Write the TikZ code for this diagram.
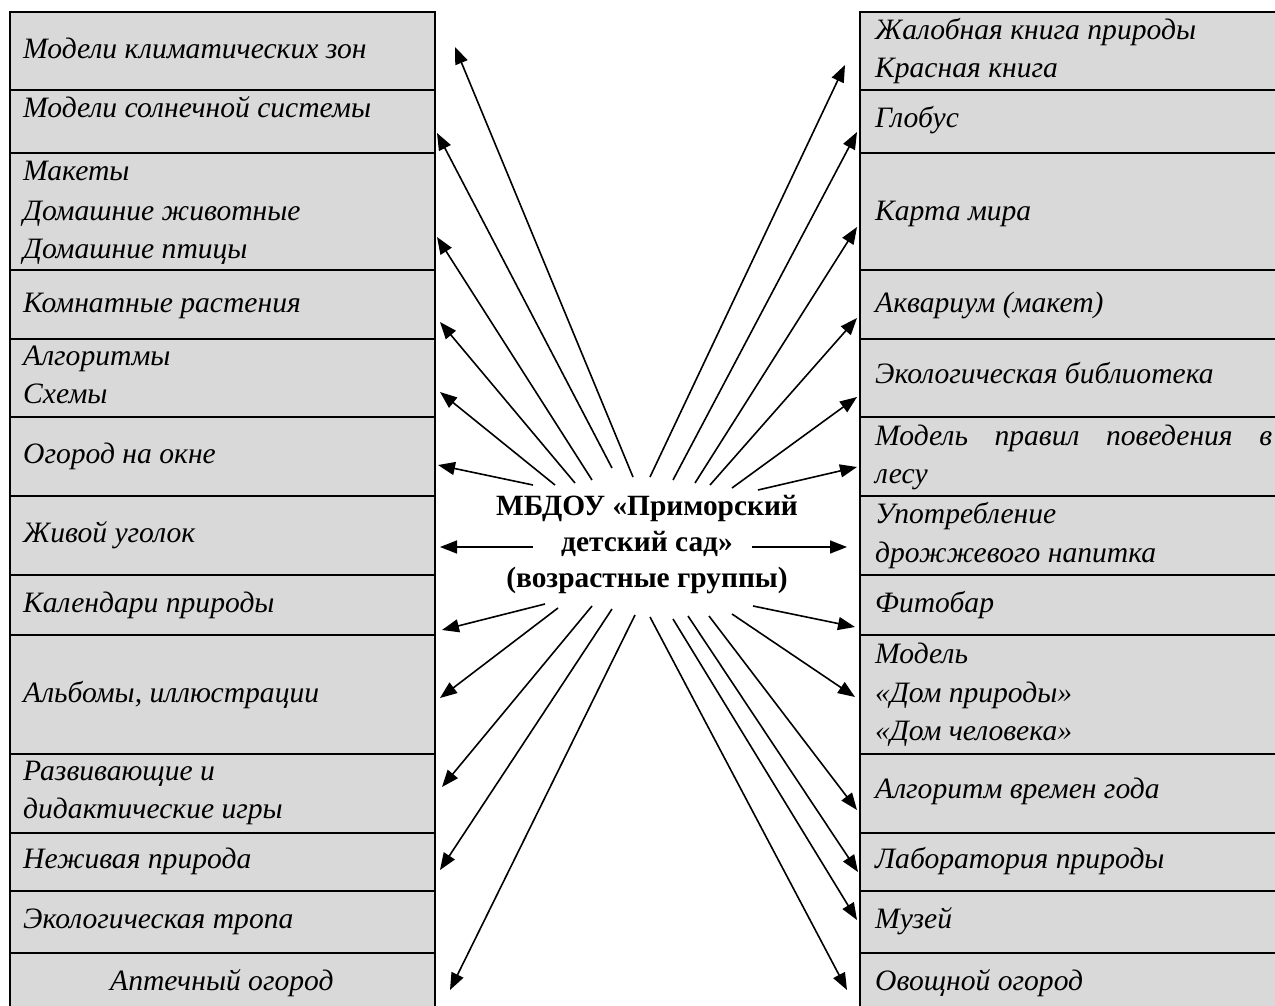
\documentclass[tikz,border=0pt]{standalone}
\usepackage{fontspec}
\setmainfont{Liberation Serif}
\usetikzlibrary{arrows.meta}
\definecolor{cellgray}{HTML}{D9D9D9}
\begin{document}
\begin{tikzpicture}[x=1pt,y=-1pt,
  cell/.style={draw=black, line width=1.5pt, fill=cellgray, inner sep=0pt, outer sep=0pt, anchor=north west},
  lbl/.style={anchor=base west, inner sep=0pt, font=\fontsize{29.6}{35}\selectfont\itshape},
  ctr/.style={anchor=base, inner sep=0pt, font=\fontsize{29.4}{35}\selectfont\bfseries},
  arr/.style={line width=1.6pt, -{Triangle[length=17pt,width=13pt]}}]
\useasboundingbox (0,0) rectangle (1275,1006);
\clip (0,0) rectangle (1275,1006);
\fill[white] (0,0) rectangle (1275,1006);
% table cells
\foreach \nm/\t/\b in {1/12/90,2/90/153,3/153/270,4/270/339,5/339/417,6/417/496,7/496/575,8/575/635,9/635/754,10/754/833,11/833/891,12/891/953,13/953/1015}{
  \pgfmathsetmacro\hh{\b-\t}
  \node[cell, minimum width=425pt, minimum height=\hh pt] (L\nm) at (10,\t) {};
  \node[cell, minimum width=425pt, minimum height=\hh pt] (R\nm) at (860,\t) {};
}
% left texts
\node[lbl] (la1) at (23,59) {Модели климатических зон};
\node[lbl] (la2) at (23,118) {Модели солнечной системы};
\node[lbl] (la3) at (23,180) {Макеты};
\node[lbl] (la3b) at (23,220) {Домашние животные};
\node[lbl] (la3c) at (23,258) {Домашние птицы};
\node[lbl] (la4) at (23,312) {Комнатные растения};
\node[lbl] (la5) at (23,365) {Алгоритмы};
\node[lbl] (la5b) at (23,403) {Схемы};
\node[lbl] (la6) at (23,463) {Огород на окне};
\node[lbl] (la7) at (23,542) {Живой уголок};
\node[lbl] (la8) at (23,612) {Календари природы};
\node[lbl] (la9) at (23,702) {Альбомы, иллюстрации};
\node[lbl] (la10) at (23,780) {Развивающие и};
\node[lbl] (la10b) at (23,818) {дидактические игры};
\node[lbl] (la11) at (23,868) {Неживая природа};
\node[lbl] (la12) at (23,928) {Экологическая тропа};
\node[lbl] (la13) at (110,990) {Аптечный огород};
% right texts
\node[lbl] (ra1) at (875,40) {Жалобная книга природы};
\node[lbl] (ra1b) at (875,78) {Красная книга};
\node[lbl] (ra2) at (875,128) {Глобус};
\node[lbl] (ra3) at (875,220) {Карта мира};
\node[lbl] (ra4) at (875,312) {Аквариум (макет)};
\node[lbl] (ra5) at (875,383) {Экологическая библиотека};
\node[lbl] (ra6) at (875,445) {\makebox[397pt][s]{Модель правил поведения в}};
\node[lbl] (ra6b) at (875,483) {лесу};
\node[lbl] (ra7) at (875,523) {Употребление};
\node[lbl] (ra7b) at (875,562) {дрожжевого напитка};
\node[lbl] (ra8) at (875,612) {Фитобар};
\node[lbl] (ra9) at (875,663) {Модель};
\node[lbl] (ra9b) at (875,702) {«Дом природы»};
\node[lbl] (ra9c) at (875,740) {«Дом человека»};
\node[lbl] (ra10) at (875,798) {Алгоритм времен года};
\node[lbl] (ra11) at (875,868) {Лаборатория природы};
\node[lbl] (ra12) at (875,928) {Музей};
\node[lbl] (ra13) at (875,990) {Овощной огород};
% centre
\node[ctr] (c1) at (647,515) {МБДОУ «Приморский};
\node[ctr] (c2) at (647,551) {детский сад»};
\node[ctr] (c3) at (647,587) {(возрастные группы)};
% left arrows
\foreach \i/\sx/\sy/\tx/\ty in {1/633/477/455/47,2/612/468/437/133,3/592/480/437/237,4/575/483/440/322,5/555/485/440/392,6/533/485/438/465,7/533/547/440/547,8/545/604/442/630,9/558/608/440/698,10/592/606/442/787,11/612/609/440/870,12/635/615/450/990}{
  \coordinate (ls\i) at (\sx,\sy);
  \coordinate (lt\i) at (\tx,\ty);
  \draw[arr] (ls\i) -- (lt\i);
}
% right arrows
\foreach \i/\sx/\sy/\tx/\ty in {1/650/477/845/65,2/673/480/857/132,3/695/483/857/227,4/710/485/857/318,5/732/488/857/397,6/758/490/857/467,7/752/547/847/547,8/753/606/855/627,9/732/614/855/697,10/709/616/857/810,11/688/616/858/872,12/673/619/857/920,13/650/617/847/990}{
  \coordinate (rs\i) at (\sx,\sy);
  \coordinate (rt\i) at (\tx,\ty);
  \draw[arr] (rs\i) -- (rt\i);
}
\end{tikzpicture}
\end{document}
